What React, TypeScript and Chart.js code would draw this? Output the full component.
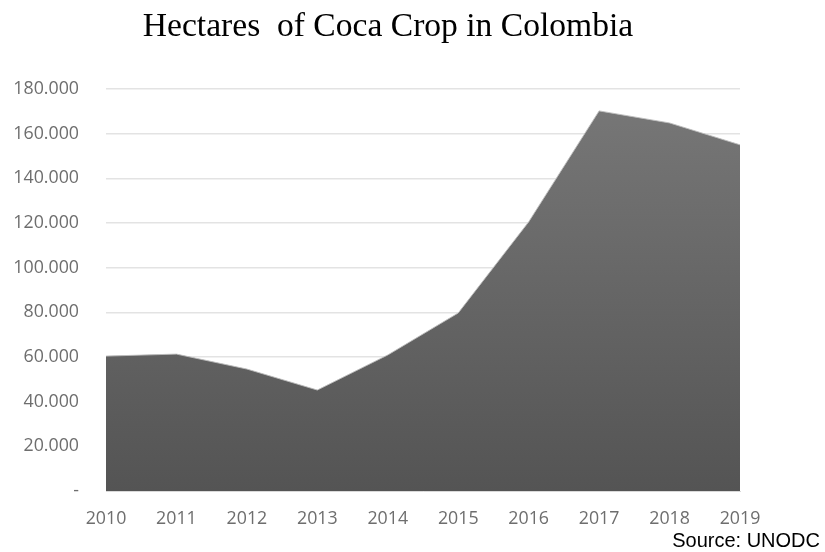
import React, { useEffect, useRef } from "react";
import { Chart, registerables } from "chart.js";

Chart.register(...registerables);

const years = ["2010", "2011", "2012", "2013", "2014", "2015", "2016", "2017", "2018", "2019"];
const hectares = [60400, 61300, 54600, 45200, 60900, 79700, 120500, 170200, 164800, 155000];
const titleText = "Hectares  of Coca Crop in Colombia";
const sourceText = "Source: UNODC";

function fmt(v: number): string {
  if (v === 0) return "-";
  const s = Math.round(v).toString();
  return s.replace(/\B(?=(\d{3})+(?!\d))/g, ".");
}

const textPlugin = {
  id: "textPlugin",
  afterDraw(chart: any) {
    const ctx = chart.ctx;
    ctx.save();
    ctx.fillStyle = "#000";
    ctx.font = '33.6px "Liberation Serif"';
    ctx.textAlign = "center";
    ctx.textBaseline = "alphabetic";
    ctx.fillText(titleText, 388, 36);
    ctx.font = '20px "Liberation Sans"';
    ctx.textAlign = "right";
    ctx.fillText(sourceText, 820, 547);
    ctx.restore();
  },
};

export default function App() {
  const ref = useRef<HTMLCanvasElement>(null);
  useEffect(() => {
    const canvas = ref.current!;
    const chart = new Chart(canvas, {
      type: "line",
      data: {
        labels: years,
        datasets: [
          {
            data: hectares,
            fill: "origin",
            tension: 0,
            pointRadius: 0,
            borderColor: "rgba(190,190,190,0.9)",
            borderWidth: 1,
            backgroundColor: (c: any) => {
              const area = c.chart.chartArea;
              if (!area) return "#666";
              const g = c.chart.ctx.createLinearGradient(0, area.top, 0, area.bottom);
              g.addColorStop(0, "#787878");
              g.addColorStop(1, "#545454");
              return g;
            },
          },
        ],
      },
      options: {
        responsive: false,
        animation: false,
        layout: { padding: { left: 0, right: 85, top: 89, bottom: 0 } },
        plugins: {
          legend: { display: false },
          title: { display: false },
          tooltip: { enabled: false },
        },
        scales: {
          x: {
            offset: false,
            grid: { display: false, drawTicks: false },
            border: { display: true, color: "#d9d9d9" },
            ticks: {
              color: "#6e6e6e",
              font: { family: "Open Sans", size: 17.8 },
              padding: 17,
              maxRotation: 0,
              autoSkip: false,
            },
            afterFit: (s: any) => {
              s.height = 61;
            },
          },
          y: {
            min: 0,
            max: 180000,
            grid: { color: "#e3e3e3", lineWidth: 1.5, drawTicks: false },
            border: { display: false },
            ticks: {
              stepSize: 20000,
              color: "#6e6e6e",
              font: { family: "Open Sans", size: 17.8 },
              padding: 27,
              callback: (v: any) => fmt(Number(v)),
            },
            afterFit: (s: any) => {
              s.width = 106;
            },
          },
        },
      },
      plugins: [textPlugin],
    });
    return () => chart.destroy();
  }, []);
  return (
    <div style={{ position: "fixed", left: 0, top: 0, width: 825, height: 552, background: "#fff" }}>
      <canvas ref={ref} width={825} height={552} style={{ display: "block" }} />
    </div>
  );
}
